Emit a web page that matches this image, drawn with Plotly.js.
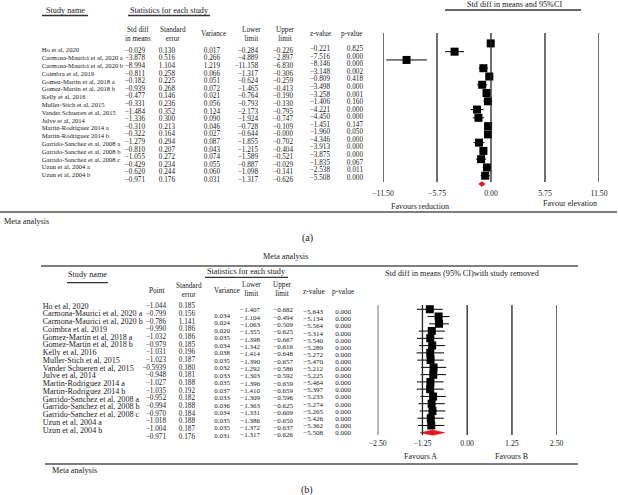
<!DOCTYPE html>
<html><head><meta charset="utf-8">
<script src="https://cdn.plot.ly/plotly-3.0.1.min.js"></script>
<style>html,body{margin:0;padding:0;background:#fff}#chart{width:618px;height:495px}</style>
</head><body><div id="chart"></div>
<script>
// ---------- DATA ----------
const studies = ["Ho et al, 2020","Carmona-Maurici et al, 2020 a","Carmona-Maurici et al, 2020 b","Coimbra et al, 2019",
  "Gomez-Martin et al, 2018 a","Gomez-Martin et al, 2018 b","Kelly et al, 2016","Muller-Stich et al, 2015",
  "Vander Schueren et al, 2015","Julve et al, 2014","Martin-Rodriguez 2014 a","Martin-Rodriguez 2014 b",
  "Garrido-Sanchez et al, 2008 a","Garrido-Sanchez et al, 2008 b","Garrido-Sanchez et al, 2008 c",
  "Uzun et al, 2004 a","Uzun et al, 2004 b"];

// Panel (a): last entry of each list is the pooled (meta analysis) row
const aStdDiff = [-0.029,-3.878,-8.994,-0.811,-0.182,-0.939,-0.477,-0.331,-1.484,-1.336,-0.310,-0.322,-1.279,-0.810,-1.055,-0.429,-0.620,-0.971];
const aStdErr  = [0.130,0.516,1.104,0.258,0.225,0.268,0.146,0.236,0.352,0.300,0.213,0.164,0.294,0.207,0.272,0.234,0.244,0.176];
const aVariance= [0.017,0.266,1.219,0.066,0.051,0.072,0.021,0.056,0.124,0.090,0.046,0.027,0.087,0.043,0.074,0.055,0.060,0.031];
const aLower   = [-0.284,-4.889,-11.158,-1.317,-0.624,-1.465,-0.764,-0.793,-2.173,-1.924,-0.728,-0.644,-1.855,-1.215,-1.589,-0.887,-1.098,-1.317];
const aUpper   = [-0.226,-2.897,-6.830,-0.306,-0.259,-0.413,-0.190,-0.130,-0.795,-0.747,-0.109,-0.000,-0.702,-0.404,-0.521,-0.029,-0.141,-0.626];
const aZ       = [-0.221,-7.516,-8.146,-3.148,-0.809,-3.498,-3.258,-1.406,-4.221,-4.450,-1.451,-1.960,-4.346,-3.913,-3.875,-1.835,-2.538,-5.508];
const aP       = [0.825,0.000,0.000,0.002,0.418,0.000,0.001,0.160,0.000,0.000,0.147,0.050,0.000,0.000,0.000,0.067,0.011,0.000];
const aTicks   = [-11.5,-5.75,0,5.75,11.5];

// Panel (b): one study removed at a time; last entry = pooled row
const bPoint   = [-1.044,-0.799,-0.786,-0.990,-1.032,-0.979,-1.031,-1.023,-0.5939,-0.948,-1.027,-1.035,-0.952,-0.994,-0.970,-1.018,-1.004,-0.971];
const bStdErr  = [0.185,0.156,1.141,0.186,0.186,0.185,0.196,0.187,0.180,0.181,0.188,0.192,0.182,0.188,0.184,0.188,0.187,0.176];
const bVariance= [0.034,0.024,0.020,0.035,0.034,0.038,0.035,0.032,0.033,0.035,0.037,0.033,0.036,0.034,0.035,0.035,0.031];
const bLower   = [-1.407,-1.104,-1.063,-1.355,-1.398,-1.342,-1.414,-1.390,-1.292,-1.303,-1.396,-1.410,-1.309,-1.363,-1.331,-1.386,-1.372,-1.317];
const bUpper   = [-0.682,-0.494,-0.509,-0.625,-0.667,-0.616,-0.648,-0.657,-0.586,-0.592,-0.659,-0.659,-0.596,-0.625,-0.609,-0.650,-0.637,-0.626];
const bZ       = [-5.643,-5.134,-5.564,-5.314,-5.540,-5.289,-5.272,-5.470,-5.212,-5.225,-5.464,-5.397,-5.233,-5.274,-5.265,-5.426,-5.362,-5.508];
const bP       = [0.000,0.000,0.000,0.000,0.000,0.000,0.000,0.000,0.000,0.000,0.000,0.000,0.000,0.000,0.000,0.000,0.000,0.000];
const bTicks   = [-2.5,-1.25,0,1.25,2.5];

// ---------- HELPERS ----------
const W = 618, H = 495;
const SERIF = "Liberation Serif, Times New Roman, serif";
const INK = "#1a1a1a";
function fmt(v, minDec) {
  minDec = minDec || 3;
  const s = String(Math.abs(v)).split('.')[1] || '';
  const d = Math.max(minDec, s.length);
  const neg = v < 0 || Object.is(v, -0);
  return (neg ? '\u2212' : '') + Math.abs(v).toFixed(d);
}
function tickText(t){ return t.map(v => (v < 0 ? '\u2212' : '') + Math.abs(v).toFixed(2)); }
const idx = n => Array.from({length:n}, (_, i) => i);

const traces = [];
// table text on a pixel overlay axis (x3/y3)
function col(xpx, y0, step, values, align, size) {
  traces.push({
    type:'scatter', mode:'text', xaxis:'x3', yaxis:'y3',
    x: values.map(() => xpx), y: values.map((_, i) => y0 + step*i),
    text: values, textposition: align === 'left' ? 'middle right' : 'middle left',
    textfont:{family:SERIF, size:size || 7.6, color:INK}, hoverinfo:'skip', cliponaxis:false, showlegend:false
  });
}
const annotations = [];
function ann(text, x, y, size, xanchor) {
  annotations.push({text, x, y, xref:'x3', yref:'y3', showarrow:false, xanchor:xanchor||'center', yanchor:'middle',
    font:{family:SERIF, size:size||7.6, color:INK}});
}
const shapes = [];
function hline(x0, x1, y, w, c) {
  shapes.push({type:'line', xref:'x3', yref:'y3', x0, x1, y0:y, y1:y, line:{color:c||'#444', width:w||1}});
}

// ---------- PANEL (a) FOREST ----------
const A = {row0:43.4, step:8.27, top:30, bot:187, lineTop:33, lineBot:182};
const nA = studies.length;
traces.push({
  type:'scatter', mode:'markers', xaxis:'x', yaxis:'y',
  x: aStdDiff.slice(0, nA), y: idx(nA),
  marker:{symbol:'square', size:8, color:'#000'},
  error_x:{type:'data', symmetric:false,
    array: aStdDiff.slice(0,nA).map((v,i)=>Math.max(0, v - aLower[i])),
    arrayminus: aStdDiff.slice(0,nA).map((v,i)=>Math.max(0, v - aLower[i])),
    color:'#000', thickness:1, width:0},
  hoverinfo:'x', showlegend:false
});
(function(){
  const i = nA, h = 0.3;
  traces.push({type:'scatter', mode:'lines', xaxis:'x', yaxis:'y', fill:'toself', fillcolor:'#e8141c',
    x:[aLower[i], aStdDiff[i], aUpper[i], aStdDiff[i], aLower[i]], y:[i, i-h, i, i+h, i],
    line:{color:'#e8141c', width:0.5}, hoverinfo:'skip', showlegend:false});
})();
aTicks.forEach(t => shapes.push({type:'line', xref:'x', yref:'y', x0:t, x1:t,
  y0:(A.lineTop-A.row0)/A.step, y1:(A.lineBot-A.row0)/A.step, line:{color:'#222', width:1.3}}));

// ---------- PANEL (b) FOREST ----------
const B = {row0:309.3, step:7.26, top:300, bot:437, lineTop:305, lineBot:435};
// plotted point = centre of the CI (printed −0.5939 is a typo of the source table)
const bPlot = bPoint.map((v,i) => (bLower[i] + bUpper[i]) / 2);
traces.push({
  type:'scatter', mode:'markers', xaxis:'x2', yaxis:'y2',
  x: bPlot.slice(0, nA), y: idx(nA),
  marker:{symbol:'square', size:8, color:'#000'},
  error_x:{type:'data', symmetric:false,
    array: bPlot.slice(0,nA).map((v,i)=>bUpper[i]-v),
    arrayminus: bPlot.slice(0,nA).map((v,i)=>v-bLower[i]),
    color:'#000', thickness:1, width:0},
  hoverinfo:'x', showlegend:false
});
(function(){
  const i = nA, h = 0.36;
  traces.push({type:'scatter', mode:'lines', xaxis:'x2', yaxis:'y2', fill:'toself', fillcolor:'#e8141c',
    x:[bLower[i], bPlot[i], bUpper[i], bPlot[i], bLower[i]], y:[i, i-h, i, i+h, i],
    line:{color:'#e8141c', width:0.5}, hoverinfo:'skip', showlegend:false});
})();
bTicks.forEach(t => shapes.push({type:'line', xref:'x2', yref:'y2', x0:t, x1:t,
  y0:(B.lineTop-B.row0)/B.step, y1:(B.lineBot-B.row0)/B.step, line:{color:'#222', width:1.3}}));

// ---------- PANEL (a) TABLE ----------
ann('Study name', 65, 10, 8.2); hline(42, 88, 15.5, 1.3, '#333');
ann('Statistics for each study', 169, 10, 8.2); hline(128, 210, 15.5, 1.3, '#333');
ann('Std diff in means and 95%CI', 514, 4, 8.2); hline(445, 581, 10, 1.3, '#333');
ann('Std diff<br>in means', 137.5, 34.5, 7.2); ann('Standard<br>error', 173, 34.5, 7.2); ann('Variance', 213, 34, 7.2);
ann('Lower<br>limit', 251, 34.5, 7.2); ann('Upper<br>limit', 285, 34.5, 7.2); ann('z-value', 320, 34.3, 7.2); ann('p-value', 352, 34.3, 7.2);
col(41.7, 50.7, 7.8, studies, 'left', 6.6);
col(145, 51, 7.6, aStdDiff.map(v=>fmt(v)), 'right', 7.2);
col(175, 51, 7.6, aStdErr.map(v=>fmt(v)), 'right', 7.2);
col(220, 51, 7.6, aVariance.map(v=>fmt(v)), 'right', 7.2);
col(258, 51, 7.6, aLower.map(v=>fmt(v)), 'right', 7.2);
col(293, 51, 7.6, aUpper.map(v=>fmt(v)), 'right', 7.2);
col(330, 49.5, 7.55, aZ.map(v=>fmt(v)), 'right', 7.2);
col(363, 49.5, 7.55, aP.map(v=>fmt(v)), 'right', 7.2);
ann('Favours reduction', 420, 206.7, 8); ann('Favour elevation', 570, 203.3, 8);
hline(0, 617, 212, 1.6, '#555');
ann('Meta analysis', 2, 221.7, 8.2, 'left');
ann('(a)', 307, 238, 10);

// ---------- PANEL (b) TABLE ----------
ann('Meta analysis', 285, 256.7, 8.2);
hline(41, 578, 266, 1.6, '#555');
ann('Study name', 87, 274, 8.2); hline(67, 108, 282.7, 1.3, '#333');
ann('Statistics for each study', 246, 271.7, 8.2); hline(205, 288, 277.3, 1.3, '#333');
ann('Std diff in means (95% CI)with study removed', 462, 273, 8.2);
ann('Point', 157, 290.7, 7.4); ann('Standard<br>error', 189, 290.5, 7.2); ann('Variance', 227, 290.7, 7.4);
ann('Lower<br>limit', 251, 289.5, 7.2); ann('Upper<br>limit', 282, 289.5, 7.2); ann('z-value', 314, 291.7, 7.4); ann('p-value', 343, 291.7, 7.4);
col(42.7, 306.7, 7.75, studies, 'left', 8.1);
col(166, 306.7, 7.65, bPoint.map(v=>fmt(v)), 'right', 7.2);
col(195, 306.7, 7.65, bStdErr.map(v=>fmt(v)), 'right', 7.2);
col(230, 316, 7.5, bVariance.map(v=>fmt(v)), 'right', 7);
col(260, 310.5, 7.35, bLower.map(v=>fmt(v)), 'right', 7);
col(293, 310.5, 7.35, bUpper.map(v=>fmt(v)), 'right', 7);
col(323, 312.5, 7.1, bZ.map(v=>fmt(v)), 'right', 7);
col(351, 312.5, 7.1, bP.map(v=>fmt(v)), 'right', 7);
ann('Favours A', 420, 456, 8); ann('Favours B', 511, 456, 8);
hline(45, 578, 464, 1.6, '#555');
ann('Meta analysis', 50, 470.7, 8.2, 'left');
ann('(b)', 307, 490, 10);

// ---------- LAYOUT ----------
const tickFont = {family:SERIF, size:7.8, color:INK};
const layout = {
  width:W, height:H, margin:{l:0, r:0, t:0, b:0}, paper_bgcolor:'#fff', plot_bgcolor:'rgba(0,0,0,0)',
  showlegend:false, annotations, shapes,
  xaxis:{domain:[383/W, 599/W], range:[-11.5, 11.5], anchor:'y', tickvals:aTicks, ticktext:tickText(aTicks),
    showgrid:false, zeroline:false, showline:false, ticks:'', tickfont:tickFont, fixedrange:true},
  yaxis:{domain:[1-A.bot/H, 1-A.top/H], range:[(A.bot-A.row0)/A.step, (A.top-A.row0)/A.step], anchor:'x',
    visible:false, fixedrange:true},
  xaxis2:{domain:[377.7/W, 556.7/W], range:[-2.5, 2.5], anchor:'y2', tickvals:bTicks, ticktext:tickText(bTicks),
    showgrid:false, zeroline:false, showline:false, ticks:'', tickfont:tickFont, fixedrange:true},
  yaxis2:{domain:[1-B.bot/H, 1-B.top/H], range:[(B.bot-B.row0)/B.step, (B.top-B.row0)/B.step], anchor:'x2',
    visible:false, fixedrange:true},
  xaxis3:{domain:[0,1], range:[0,W], anchor:'y3', visible:false, fixedrange:true},
  yaxis3:{domain:[0,1], range:[H,0], anchor:'x3', visible:false, fixedrange:true}
};
Plotly.newPlot('chart', traces, layout, {displayModeBar:false, staticPlot:true});
</script></body></html>
